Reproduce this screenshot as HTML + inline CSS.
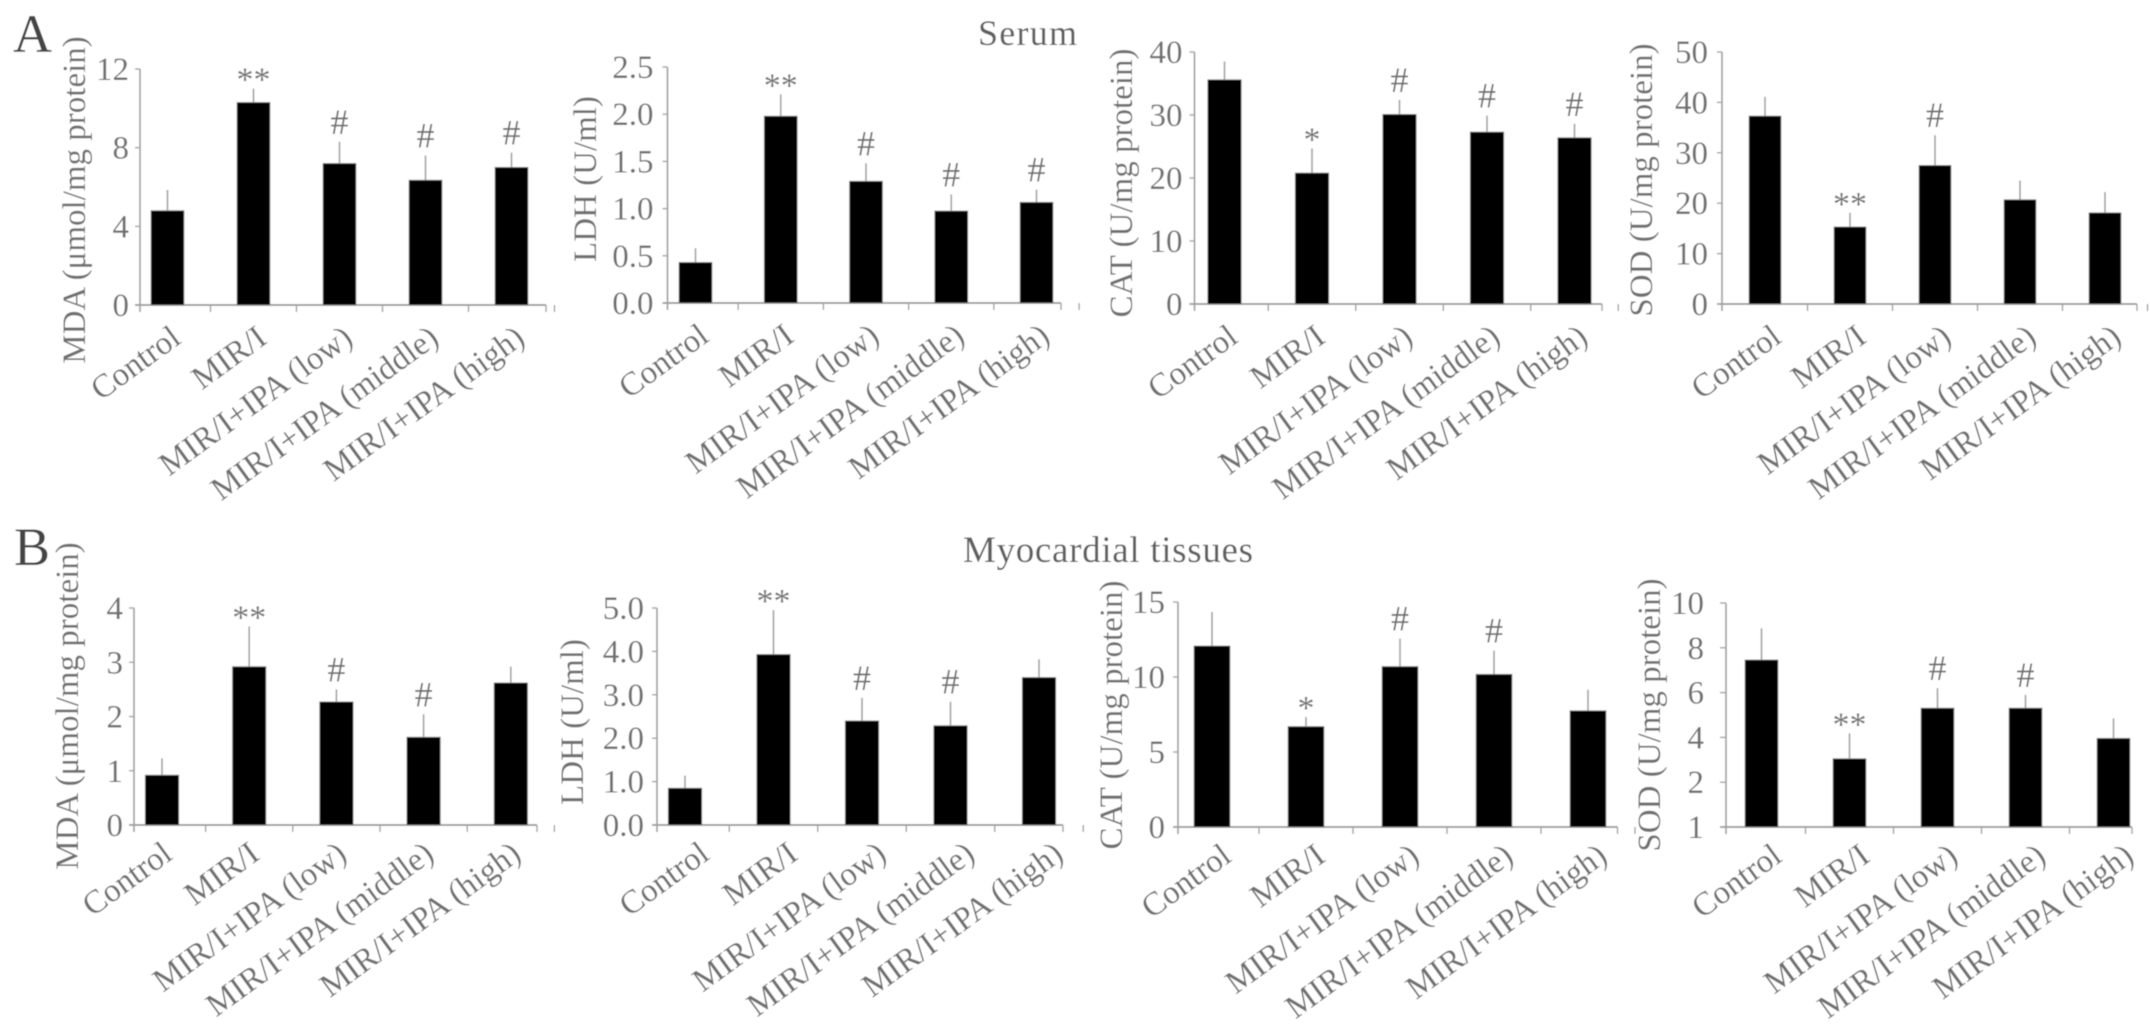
<!DOCTYPE html>
<html lang="en">
<head>
<meta charset="utf-8">
<title>Serum and myocardial tissue biomarkers</title>
<style>
html,body{margin:0;padding:0;background:#fff;width:2150px;height:1024px;overflow:hidden}
svg{display:block}
text{font-family:"Liberation Serif",serif;fill:#707070}
</style>
</head>
<body>
<svg id="figure" xmlns="http://www.w3.org/2000/svg" width="2150" height="1024" viewBox="0 0 2150 1024">
<defs><filter id="soft" x="0" y="0" width="100%" height="100%"><feGaussianBlur stdDeviation="0.55"/></filter></defs>
<g id="root" filter="url(#soft)">
<rect width="2150" height="1024" fill="#fff"/>
<text x="13" y="52" font-size="54" style="fill:#444">A</text>
<text x="14" y="565" font-size="54" style="fill:#444">B</text>
<text x="978" y="45" font-size="36" textLength="99" style="fill:#5e5e5e">Serum</text>
<text x="963" y="562" font-size="37" textLength="290" style="fill:#5e5e5e">Myocardial tissues</text>
</g>
</svg>
<script>
const categories = ["Control", "MIR/I", "MIR/I+IPA (low)", "MIR/I+IPA (middle)", "MIR/I+IPA (high)"];

const serumMdaValues = [4.8, 10.3, 7.2, 6.35, 7.0];
const serumMdaErrors = [1.05, 0.7, 1.1, 1.25, 0.75];
const serumMdaMarks = ["", "**", "#", "#", "#"];
const serumMdaTicks = [0, 4, 8, 12];
const serumMdaTickLabels = ["0", "4", "8", "12"];

const serumLdhValues = [0.43, 1.98, 1.29, 0.975, 1.067];
const serumLdhErrors = [0.15, 0.23, 0.19, 0.175, 0.133];
const serumLdhMarks = ["", "**", "#", "#", "#"];
const serumLdhTicks = [0, 0.5, 1, 1.5, 2, 2.5];
const serumLdhTickLabels = ["0.0", "0.5", "1.0", "1.5", "2.0", "2.5"];

const serumCatValues = [35.6, 20.8, 30.1, 27.3, 26.4];
const serumCatErrors = [2.9, 3.9, 2.3, 2.6, 2.2];
const serumCatMarks = ["", "*", "#", "#", "#"];
const serumCatTicks = [0, 10, 20, 30, 40];
const serumCatTickLabels = ["0", "10", "20", "30", "40"];

const serumSodValues = [37.3, 15.3, 27.5, 20.7, 18.1];
const serumSodErrors = [3.8, 2.8, 6.0, 3.8, 4.1];
const serumSodMarks = ["", "**", "#", "", ""];
const serumSodTicks = [0, 10, 20, 30, 40, 50];
const serumSodTickLabels = ["0", "10", "20", "30", "40", "50"];

const tissueMdaValues = [0.92, 2.92, 2.27, 1.62, 2.62];
const tissueMdaErrors = [0.31, 0.74, 0.23, 0.42, 0.3];
const tissueMdaMarks = ["", "**", "#", "#", ""];
const tissueMdaTicks = [0, 1, 2, 3, 4];
const tissueMdaTickLabels = ["0", "1", "2", "3", "4"];

const tissueLdhValues = [0.85, 3.93, 2.4, 2.29, 3.4];
const tissueLdhErrors = [0.29, 1.02, 0.53, 0.55, 0.42];
const tissueLdhMarks = ["", "**", "#", "#", ""];
const tissueLdhTicks = [0, 1, 2, 3, 4, 5];
const tissueLdhTickLabels = ["0.0", "1.0", "2.0", "3.0", "4.0", "5.0"];

const tissueCatValues = [12.07, 6.7, 10.7, 10.18, 7.75];
const tissueCatErrors = [2.27, 0.63, 1.86, 1.58, 1.4];
const tissueCatMarks = ["", "*", "#", "#", ""];
const tissueCatTicks = [0, 5, 10, 15];
const tissueCatTickLabels = ["0", "5", "10", "15"];

const tissueSodValues = [7.46, 3.05, 5.31, 5.31, 3.96];
const tissueSodErrors = [1.41, 1.13, 0.89, 0.59, 0.89];
const tissueSodMarks = ["", "**", "#", "#", ""];
const tissueSodTicks = [0, 2, 4, 6, 8, 10];
const tissueSodTickLabels = ["1", "2", "4", "6", "8", "10"];

const root = document.getElementById('root');
const NS = 'http://www.w3.org/2000/svg';

function make(tag, attrs, parent, content) {
  const node = document.createElementNS(NS, tag);
  for (const key in attrs) node.setAttribute(key, attrs[key]);
  if (content !== undefined) node.textContent = content;
  parent.appendChild(node);
  return node;
}

function drawPanel(p) {
  const group = make('g', {}, root);
  
  

  const yMax = p.ticks[p.ticks.length - 1];
  const yScale = v => p.bottom - (v / yMax) * (p.bottom - p.top);
  const xScale = i => p.firstBar + i * p.step;
  const tickLen = p.tickLen || 5;

  const yAxis = make('line', {x1: p.left, x2: p.left, y1: p.top, y2: p.bottom + 7, stroke: '#a2a2a2', 'stroke-width': 1.7}, group);
  
  

  const xAxis = make('line', {x1: p.left - tickLen, x2: p.right, y1: p.bottom, y2: p.bottom, stroke: '#a2a2a2', 'stroke-width': 2}, group);
  
  

  p.ticks.forEach((t, i) => {
    const y = yScale(t);
    const tick = make('line', {x1: p.left - tickLen, x2: p.left, y1: y, y2: y, stroke: '#a2a2a2', 'stroke-width': 1.4}, group);
    
    
    const label = make('text', {x: p.left - p.labelGap, y: y + 11, 'font-size': 33, 'text-anchor': 'end'}, group, p.tickLabels[i]);
    
    
  });

  for (let i = 0; i <= categories.length; i++) {
    const x = i === categories.length ? p.right : xScale(i) + p.step / 2;
    const tick = make('line', {x1: x, x2: x, y1: p.bottom, y2: p.bottom + 7, stroke: '#a2a2a2', 'stroke-width': 1.4}, group);
    
    
  }

  const title = make('text', {
    transform: 'translate(' + p.titleX + ',' + p.titleY + ') rotate(-90)',
    'text-anchor': 'middle', 'font-size': 33
  }, group, p.title);
  
  

  categories.forEach((category, i) => {
    const cx = xScale(i);
    const top = yScale(p.values[i]);
    const errTop = yScale(p.values[i] + p.errors[i]);

    const err = make('line', {x1: cx, x2: cx, y1: errTop, y2: top, stroke: '#a0a0a0', 'stroke-width': 1.6}, group);
    
    

    const bar = make('rect', {x: cx - p.barWidth / 2, y: top, width: p.barWidth, height: p.bottom - top, fill: '#000', stroke: '#8a8a8a', 'stroke-width': 0.8}, group);
    
    

    if (p.marks[i]) {
      const isHash = p.marks[i] === '#';
      const mark = make('text', {x: cx, y: isHash ? errTop - 8 : errTop + 2, 'font-size': isHash ? 36 : 34, 'text-anchor': 'middle'}, group, p.marks[i]);
      
      
    }

    const lx = cx + p.labelDx;
    const ly = p.bottom + p.labelDrop;
    const cat = make('text', {
      transform: 'translate(' + lx + ',' + ly + ') rotate(-36)',
      'text-anchor': 'end', 'font-size': 33
    }, group, category);
    
    
  });
}

drawPanel({name: 'serum-mda-chart', title: 'MDA (\u03bcmol/mg protein)', titleX: 85, titleY: 200,
  left: 140, right: 546, top: 69, bottom: 305, firstBar: 167.5, step: 86, barWidth: 33, labelDx: 15, labelDrop: 37, labelGap: 11,
  values: serumMdaValues, errors: serumMdaErrors, marks: serumMdaMarks, ticks: serumMdaTicks, tickLabels: serumMdaTickLabels});
drawPanel({name: 'serum-ldh-chart', title: 'LDH (U/ml)', titleX: 596, titleY: 179,
  left: 667.5, right: 1061, top: 67, bottom: 303, firstBar: 695.5, step: 85.25, barWidth: 33, labelDx: 15, labelDrop: 37, labelGap: 14,
  values: serumLdhValues, errors: serumLdhErrors, marks: serumLdhMarks, ticks: serumLdhTicks, tickLabels: serumLdhTickLabels});
drawPanel({name: 'serum-cat-chart', title: 'CAT (U/mg protein)', titleX: 1132, titleY: 183,
  left: 1194.5, right: 1602, top: 52, bottom: 304, firstBar: 1224.5, step: 87.5, barWidth: 33.5, labelDx: 15, labelDrop: 37, labelGap: 12,
  values: serumCatValues, errors: serumCatErrors, marks: serumCatMarks, ticks: serumCatTicks, tickLabels: serumCatTickLabels});
drawPanel({name: 'serum-sod-chart', title: 'SOD (U/mg protein)', titleX: 1652, titleY: 180,
  left: 1722, right: 2137, top: 52, bottom: 304, firstBar: 1765, step: 85, barWidth: 32, labelDx: 18, labelDrop: 37, labelGap: 14,
  values: serumSodValues, errors: serumSodErrors, marks: serumSodMarks, ticks: serumSodTicks, tickLabels: serumSodTickLabels});
drawPanel({name: 'tissue-mda-chart', title: 'MDA (\u03bcmol/mg protein)', titleX: 78, titleY: 706,
  left: 134, right: 537, top: 608, bottom: 825, firstBar: 162, step: 87.2, barWidth: 33.5, labelDx: 12, labelDrop: 33, labelGap: 11,
  values: tissueMdaValues, errors: tissueMdaErrors, marks: tissueMdaMarks, ticks: tissueMdaTicks, tickLabels: tissueMdaTickLabels});
drawPanel({name: 'tissue-ldh-chart', title: 'LDH (U/ml)', titleX: 583, titleY: 722,
  left: 657, right: 1063, top: 608, bottom: 825, firstBar: 685, step: 88.5, barWidth: 33.5, labelDx: 26, labelDrop: 33, labelGap: 13,
  values: tissueLdhValues, errors: tissueLdhErrors, marks: tissueLdhMarks, ticks: tissueLdhTicks, tickLabels: tissueLdhTickLabels});
drawPanel({name: 'tissue-cat-chart', title: 'CAT (U/mg protein)', titleX: 1122, titleY: 715,
  left: 1178, right: 1617.5, top: 602, bottom: 827, firstBar: 1212, step: 94, barWidth: 36, labelDx: 21, labelDrop: 33, labelGap: 13,
  values: tissueCatValues, errors: tissueCatErrors, marks: tissueCatMarks, ticks: tissueCatTicks, tickLabels: tissueCatTickLabels});
drawPanel({name: 'tissue-sod-chart', title: 'SOD (U/mg protein)', titleX: 1660, titleY: 715,
  left: 1726, right: 2132, top: 603, bottom: 827, firstBar: 1761.5, step: 88, barWidth: 33, labelDx: 22, labelDrop: 33, labelGap: 22, tickLen: 6,
  values: tissueSodValues, errors: tissueSodErrors, marks: tissueSodMarks, ticks: tissueSodTicks, tickLabels: tissueSodTickLabels});
</script>
</body>
</html>
